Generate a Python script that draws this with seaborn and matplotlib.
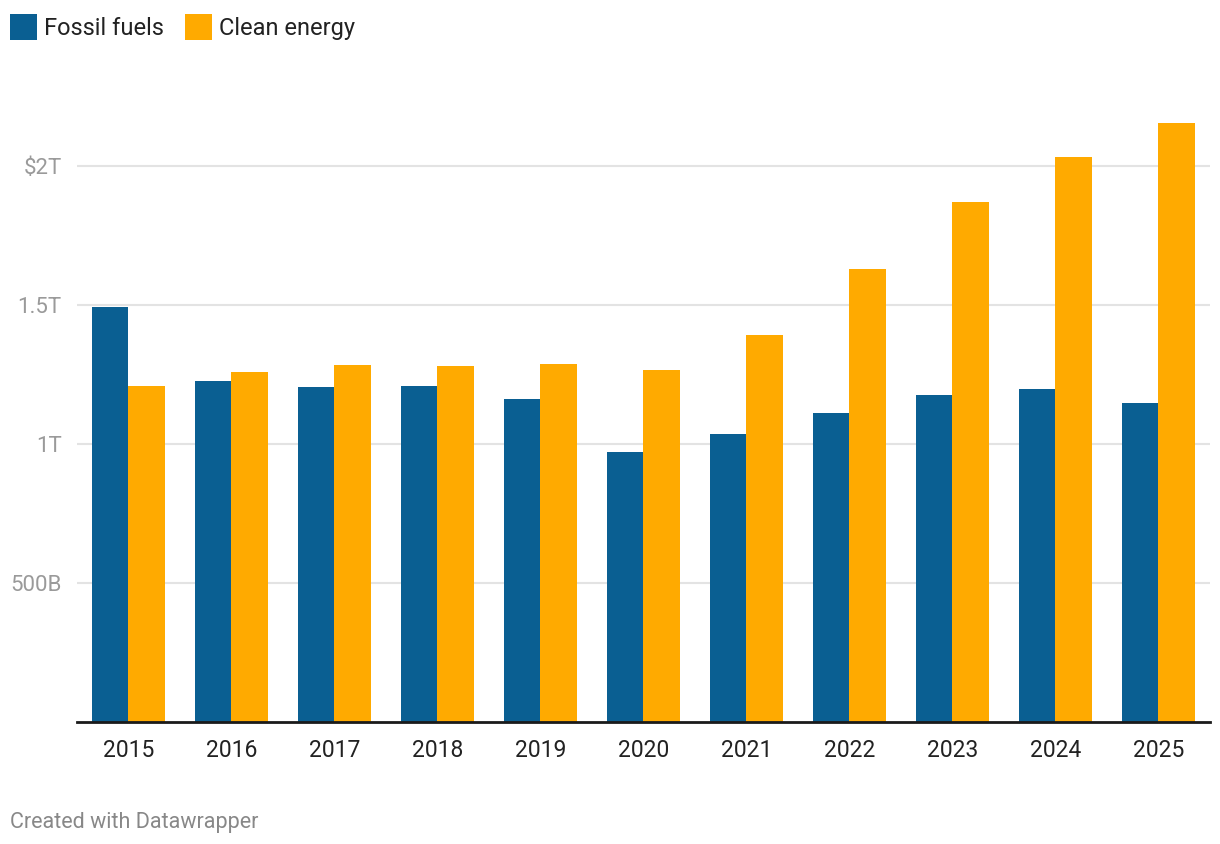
import pandas as pd
import seaborn as sns
import matplotlib.pyplot as plt
from matplotlib.patches import Patch

years = ["2015", "2016", "2017", "2018", "2019", "2020", "2021", "2022", "2023", "2024", "2025"]
fossil = [1.493, 1.227, 1.205, 1.209, 1.162, 0.971, 1.036, 1.111, 1.176, 1.198, 1.147]
clean = [1.209, 1.259, 1.284, 1.281, 1.288, 1.266, 1.392, 1.629, 1.871, 2.032, 2.155]
series = ["Fossil fuels", "Clean energy"]
colors = ["#0a5f92", "#ffaa00"]
ytick_vals = [0.5, 1.0, 1.5, 2.0]
ytick_labels = ["500B", "1T", "1.5T", "$2T"]

df = pd.DataFrame({"Year": years * 2,
                   "Series": [series[0]] * len(years) + [series[1]] * len(years),
                   "Value": fossil + clean})

sns.set_style("white")
plt.rcParams["font.family"] = ["Roboto", "DejaVu Sans"]

fig = plt.figure(figsize=(12.2, 8.44), dpi=100)
ax = fig.add_axes([0.0631, 0.1445, 0.9287, 0.7412])

sns.barplot(data=df, x="Year", y="Value", hue="Series", palette=colors,
            width=0.7, saturation=1, linewidth=0, ax=ax, legend=False)

ax.set_xlim(-0.5, len(years) - 0.5)
ax.set_ylim(0, 2.25)
ax.set_yticks(ytick_vals)
ax.set_yticklabels(ytick_labels)
ax.yaxis.grid(True, color="#e3e3e3", linewidth=1.5)
ax.set_axisbelow(True)
ax.set_xlabel("")
ax.set_ylabel("")
for s in ["top", "right", "left"]:
    ax.spines[s].set_visible(False)
ax.spines["bottom"].set_color("#1a1a1a")
ax.spines["bottom"].set_linewidth(2)
ax.tick_params(axis="y", length=0, pad=11, labelsize=16, labelcolor="#9a9a9a")
ax.tick_params(axis="x", length=0, pad=12, labelsize=16.5, labelcolor="#222222")

handles = [Patch(facecolor=c, edgecolor="none") for c in colors]
fig.legend(handles, series, loc="upper left", bbox_to_anchor=(0.008, 0.983),
           ncol=2, frameon=False, fontsize=17, handlelength=1.15, handleheight=1.3,
           handletextpad=0.3, columnspacing=0.9, borderpad=0, borderaxespad=0,
           labelcolor="#222222")

fig.text(0.008, 0.019, "Created with Datawrapper", fontsize=15.5, color="#888888")

fig.savefig("out.png", dpi=100)
